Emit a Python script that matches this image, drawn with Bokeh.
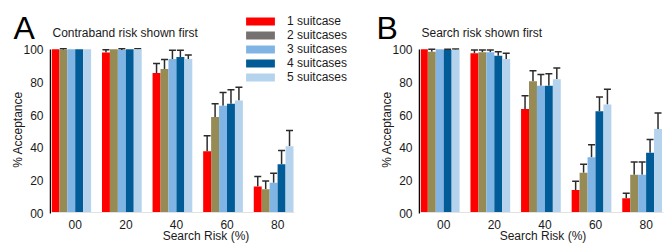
from bokeh.plotting import figure
from bokeh.models import (ColumnDataSource, Whisker, TeeHead, FixedTicker, Legend,
                          LegendItem, Label, Range1d)
from bokeh.layouts import row
from bokeh.embed import file_html
from bokeh.resources import INLINE

FONT = "Liberation Sans"
TXT = "#1a1a1a"

# ---------------- data ----------------
risk_labels = ["00", "20", "40", "60", "80"]
y_ticks = [0, 20, 40, 60, 80, 100]
series_names = ["1 suitcase", "2 suitcases", "3 suitcases", "4 suitcases", "5 suitcases"]
bar_colors = ["#ff0000", "#968a55", "#80b4e4", "#005b96", "#b6d3ee"]
legend_colors = ["#ff0000", "#767171", "#80b4e4", "#005b96", "#b6d3ee"]

# Panel A: contraband risk shown first (% acceptance and upper error)
a_s1 = [100, 98.0, 85.5, 37.5, 16.0]
a_s2 = [99.8, 100, 88.0, 58.5, 14.2]
a_s3 = [100, 99.5, 94.0, 65.4, 18.3]
a_s4 = [100, 100, 95.3, 66.6, 29.6]
a_s5 = [100, 100, 94.0, 68.7, 40.6]
a_e1 = [0, 1.8, 5.8, 9.5, 6.0]
a_e2 = [0.6, 0, 5.7, 8.1, 5.1]
a_e3 = [0, 0.8, 5.4, 8.1, 5.7]
a_e4 = [0, 0, 4.1, 8.6, 8.4]
a_e5 = [0, 0.4, 2.5, 8.1, 9.6]

# Panel B: search risk shown first
b_s1 = [100, 97.6, 63.4, 13.8, 8.7]
b_s2 = [98.5, 98.2, 80.5, 24.4, 23.2]
b_s3 = [100, 98.2, 77.6, 33.9, 23.2]
b_s4 = [99.5, 96.1, 77.6, 62.0, 36.6]
b_s5 = [99.8, 94.1, 81.7, 66.2, 51.2]
b_e1 = [0, 2.0, 8.1, 5.3, 3.1]
b_e2 = [1.5, 1.4, 6.3, 5.2, 7.8]
b_e3 = [0, 1.4, 7.0, 7.6, 7.8]
b_e4 = [0.5, 2.4, 7.4, 8.7, 8.1]
b_e5 = [0.4, 3.5, 6.9, 9.4, 9.8]

# ---------------- layout constants ----------------
H = 245
PX_PER_UNIT = 1.64          # vertical pixels per % acceptance
FRAME_BOTTOM = 213          # canvas y of 0 %
AX_TOP = 45                 # frame top of the y-axis strips
MAIN_TOP = 10               # frame top of the bar panels
BAR_W = 0.157
TICK_SHIFT = 0.08


def axis_strip(width, border_left, letter, letter_offset):
    top_val = (FRAME_BOTTOM - AX_TOP) / PX_PER_UNIT
    p = figure(width=width, height=H, output_backend="svg", toolbar_location=None,
               x_range=Range1d(0, 1), y_range=Range1d(0, top_val),
               x_axis_location=None, frame_align=False,
               min_border_left=border_left, min_border_right=0,
               min_border_top=AX_TOP, min_border_bottom=H - FRAME_BOTTOM)
    p.outline_line_color = None
    p.grid.visible = False
    yax = p.yaxis[0]
    yax.ticker = FixedTicker(ticks=y_ticks)
    yax.major_label_overrides = {0: "00"}
    yax.bounds = (0, 100)
    yax.axis_line_color = "black"
    yax.axis_line_width = 1.5
    yax.major_tick_line_color = None
    yax.minor_tick_line_color = None
    yax.major_tick_out = 0
    yax.major_tick_in = 0
    yax.minor_tick_out = 0
    yax.major_label_standoff = 7
    yax.major_label_text_font = FONT
    yax.major_label_text_font_size = "12px"
    yax.major_label_text_color = TXT
    yax.axis_label = "% Acceptance"
    yax.axis_label_text_font = FONT
    yax.axis_label_text_font_size = "12px"
    yax.axis_label_text_font_style = "normal"
    yax.axis_label_text_color = TXT
    yax.axis_label_standoff = -5

    p.title.text = letter
    p.title.text_font = FONT
    p.title.text_font_size = "32px"
    p.title.text_font_style = "normal"
    p.title.text_color = "black"
    p.title.align = "left"
    p.title.offset = letter_offset
    p.title.standoff = 0
    return p


def bar_panel(width, x_start, title, vals, errs, with_legend):
    x_end = x_start + width / 50.6
    top_val = (FRAME_BOTTOM - MAIN_TOP) / PX_PER_UNIT
    p = figure(width=width, height=H, output_backend="svg", toolbar_location=None,
               x_range=Range1d(x_start, x_end), y_range=Range1d(0, top_val),
               y_axis_location=None, frame_align=False,
               min_border_left=0, min_border_right=0,
               min_border_top=MAIN_TOP, min_border_bottom=H - FRAME_BOTTOM)
    p.outline_line_color = None
    p.grid.visible = False

    for j in range(5):
        xs = [i + (j - 2) * BAR_W for i in range(5)]
        src = ColumnDataSource(dict(x=xs, top=vals[j]))
        p.vbar(x="x", top="top", width=BAR_W, source=src, fill_color=bar_colors[j],
               line_color=None)
    for j in range(5):
        xs, lo, up = [], [], []
        for i in range(5):
            if errs[j][i] > 0:
                xs.append(i + (j - 2) * BAR_W)
                lo.append(vals[j][i])
                up.append(vals[j][i] + errs[j][i])
        esrc = ColumnDataSource(dict(x=xs, lo=lo, up=up))
        p.add_layout(Whisker(source=esrc, base="x", lower="lo", upper="up",
                             line_color="#2b2b2b", line_width=1.5, lower_head=None,
                             upper_head=TeeHead(size=7, line_color="#2b2b2b",
                                                line_width=1.5)))

    xax = p.xaxis[0]
    tpos = [i + TICK_SHIFT for i in range(5)]
    xax.ticker = FixedTicker(ticks=tpos)
    xax.major_label_overrides = {t: lab for t, lab in zip(tpos, risk_labels)}
    xax.bounds = (-0.42, 4.42)
    xax.axis_line_color = "#e2e2e2"
    xax.major_tick_line_color = None
    xax.minor_tick_line_color = None
    xax.major_tick_out = 0
    xax.major_tick_in = 0
    xax.minor_tick_out = 0
    xax.major_label_standoff = 7
    xax.major_label_text_font = FONT
    xax.major_label_text_font_size = "12px"
    xax.major_label_text_color = TXT
    xax.axis_label = "Search Risk (%)"
    xax.axis_label_text_font = FONT
    xax.axis_label_text_font_size = "12px"
    xax.axis_label_text_font_style = "normal"
    xax.axis_label_text_color = TXT
    xax.axis_label_standoff = -3

    p.add_layout(Label(x=1, y=FRAME_BOTTOM - 33, x_units="screen", y_units="screen",
                       text=title, text_font=FONT, text_font_size="12px",
                       text_color=TXT, text_baseline="alphabetic"))

    if with_legend:
        items = []
        for j in range(5):
            dsrc = ColumnDataSource(dict(x=[0], top=[0]))
            r = p.vbar(x="x", top="top", width=BAR_W, source=dsrc,
                       fill_color=legend_colors[j], line_color=None)
            items.append(LegendItem(label=series_names[j], renderers=[r]))
        leg = Legend(items=items, location=(191, FRAME_BOTTOM - 85),
                     orientation="vertical",
                     glyph_width=36, glyph_height=10, label_standoff=9,
                     spacing=0, padding=0, margin=0, label_height=10,
                     label_text_font=FONT, label_text_font_size="12px",
                     label_text_color=TXT, border_line_color=None,
                     background_fill_alpha=0)
        p.add_layout(leg, "center")
    return p


axA = axis_strip(51, 50, "A", -37)
pA = bar_panel(309, -0.39, "Contraband risk shown first",
               [a_s1, a_s2, a_s3, a_s4, a_s5], [a_e1, a_e2, a_e3, a_e4, a_e5], True)
axB = axis_strip(60, 59, "B", -43)
pB = bar_panel(245, -0.38, "Search risk shown first",
               [b_s1, b_s2, b_s3, b_s4, b_s5], [b_e1, b_e2, b_e3, b_e4, b_e5], False)

layout = row(axA, pA, axB, pB)
open("out.html", "w").write(file_html(layout, INLINE))
